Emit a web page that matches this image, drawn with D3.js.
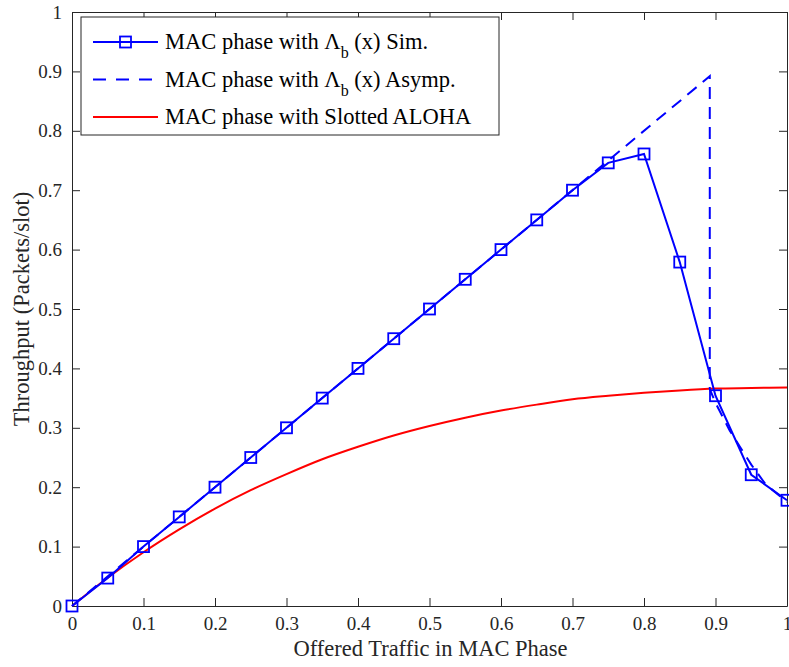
<!DOCTYPE html>
<html>
<head>
<meta charset="utf-8">
<script src="https://cdn.jsdelivr.net/npm/d3@7"></script>
<style>
  body { margin: 0; background: #fff; }
  svg text { font-family: "Liberation Serif", "Times New Roman", serif; }
</style>
</head>
<body>
<div class="chart"></div>
<script>
// data
const simX = [0, 0.05, 0.1, 0.15, 0.2, 0.25, 0.3, 0.35, 0.4, 0.45, 0.5, 0.55, 0.6, 0.65, 0.7, 0.75, 0.8, 0.85, 0.9, 0.95, 1.0];
const simY = [0, 0.047, 0.1, 0.15, 0.2, 0.25, 0.3, 0.35, 0.4, 0.45, 0.5, 0.55, 0.6, 0.65, 0.7, 0.746, 0.761, 0.579, 0.354, 0.221, 0.178];

const asymX = [0, 0.892, 0.892, 0.9, 0.92, 0.95, 0.97, 1.0];
const asymY = [0, 0.892, 0.365, 0.342, 0.295, 0.238, 0.205, 0.175];

const alohaX = [0, 0.05, 0.1, 0.15, 0.2, 0.25, 0.3, 0.35, 0.4, 0.45, 0.5, 0.55, 0.6, 0.65, 0.7, 0.75, 0.8, 0.85, 0.9, 0.95, 1.0];
const alohaY = [0, 0.0476, 0.0905, 0.129, 0.164, 0.195, 0.222, 0.247, 0.268, 0.287, 0.303, 0.317, 0.329, 0.339, 0.348, 0.354, 0.359, 0.363, 0.366, 0.367, 0.368];

const xTicks = [0, 0.1, 0.2, 0.3, 0.4, 0.5, 0.6, 0.7, 0.8, 0.9, 1];
const yTicks = [0, 0.1, 0.2, 0.3, 0.4, 0.5, 0.6, 0.7, 0.8, 0.9, 1];

const margin = ({top: 12, right: 2, bottom: 61, left: 72});
const width = 789 - margin.left - margin.right;
const height = 667 - margin.top - margin.bottom;

var svg = d3.select(".chart")
    .append("svg")
    .attr("width", 789)
    .attr("height", 667)
    .append("g")
    .attr("transform", "translate(" + margin.left + "," + margin.top + ")");

var xScale = d3.scaleLinear().domain([0, 1]).range([0, width]);
var yScale = d3.scaleLinear().domain([0, 1]).range([height, 0]);

const axisColor = "#262626";
const fmt = d => d === 0 ? "0" : d === 1 ? "1" : d3.format(".1f")(d);

// axes (ticks inward)
const xAxis = d3.axisBottom(xScale).tickValues(xTicks).tickFormat(fmt).tickSizeInner(-8).tickSizeOuter(0).tickPadding(11);
const yAxis = d3.axisLeft(yScale).tickValues(yTicks).tickFormat(fmt).tickSizeInner(-8).tickSizeOuter(0).tickPadding(10);
const xTop = d3.axisTop(xScale).tickValues(xTicks).tickFormat("").tickSizeInner(-8).tickSizeOuter(0);
const yRight = d3.axisRight(yScale).tickValues(yTicks).tickFormat("").tickSizeInner(-8).tickSizeOuter(0);

function styleAxis(g) {
  g.selectAll("path").attr("stroke", axisColor).attr("stroke-width", 1);
  g.selectAll("line").attr("stroke", axisColor).attr("stroke-width", 1);
  g.selectAll("text").attr("fill", axisColor).attr("font-size", 19)
    .attr("font-family", "Liberation Serif, serif");
}

svg.append("g").attr("transform", `translate(0,${height})`).call(xAxis).call(styleAxis);
svg.append("g").call(yAxis).call(styleAxis);
svg.append("g").call(xTop).call(styleAxis);
svg.append("g").attr("transform", `translate(${width},0)`).call(yRight).call(styleAxis);

// axis titles
svg.append("text")
    .attr("x", width / 2 + 1)
    .attr("y", height + 50)
    .attr("text-anchor", "middle")
    .attr("font-size", 22.5)
    .attr("fill", axisColor)
    .text("Offered Traffic in MAC Phase");

svg.append("text")
    .attr("transform", `translate(-43,${height / 2}) rotate(-90)`)
    .attr("text-anchor", "middle")
    .attr("font-size", 22.5)
    .attr("fill", axisColor)
    .text("Throughput (Packets/slot)");

const line = d3.line().x(d => xScale(d[0])).y(d => yScale(d[1]));
const smooth = d3.line().x(d => xScale(d[0])).y(d => yScale(d[1])).curve(d3.curveMonotoneX);

// red slotted ALOHA
svg.append("path")
    .datum(d3.zip(alohaX, alohaY))
    .attr("d", smooth)
    .attr("fill", "none")
    .attr("stroke", "#ff0000")
    .attr("stroke-width", 2);

// dashed asymptotic
svg.append("path")
    .datum(d3.zip(asymX, asymY))
    .attr("d", line)
    .attr("fill", "none")
    .attr("stroke", "#0000ff")
    .attr("stroke-width", 2)
    .attr("stroke-dasharray", "12,8");

// simulation with squares
const simData = d3.zip(simX, simY);
svg.append("path")
    .datum(simData)
    .attr("d", line)
    .attr("fill", "none")
    .attr("stroke", "#0000ff")
    .attr("stroke-width", 2);

svg.selectAll(".marker")
    .data(simData)
    .enter()
    .append("rect")
    .attr("class", "marker")
    .attr("x", d => xScale(d[0]) - 5.5)
    .attr("y", d => yScale(d[1]) - 5.5)
    .attr("width", 11)
    .attr("height", 11)
    .attr("fill", "none")
    .attr("stroke", "#0000ff")
    .attr("stroke-width", 1.8);

// legend
const legend = svg.append("g").attr("transform", "translate(9,5)");
legend.append("rect")
    .attr("width", 418)
    .attr("height", 118)
    .attr("fill", "#fff")
    .attr("stroke", axisColor)
    .attr("stroke-width", 1);

const legendItems = [
  {pre: "MAC phase with \u039B", sub: "b", post: " (x) Sim.", dash: null, marker: true, color: "#0000ff"},
  {pre: "MAC phase with \u039B", sub: "b", post: " (x) Asymp.", dash: "13,10", marker: false, color: "#0000ff"},
  {pre: "MAC phase with Slotted ALOHA", sub: null, post: null, dash: null, marker: false, color: "#ff0000"}
];

legendItems.forEach((it, i) => {
  const cy = 25 + i * 37.5;
  legend.append("line")
      .attr("x1", 12).attr("x2", 77)
      .attr("y1", cy).attr("y2", cy)
      .attr("stroke", it.color)
      .attr("stroke-width", 2)
      .attr("stroke-dasharray", it.dash);
  if (it.marker) {
    legend.append("rect")
        .attr("x", 44.5 - 5.5).attr("y", cy - 5.5)
        .attr("width", 11).attr("height", 11)
        .attr("fill", "none").attr("stroke", it.color).attr("stroke-width", 1.8);
  }
  const t = legend.append("text")
      .attr("x", 84)
      .attr("y", cy + 7)
      .attr("font-size", 22.5)
      .attr("fill", "#000");
  t.append("tspan").text(it.pre);
  if (it.sub) {
    t.append("tspan").attr("dy", 9).attr("font-size", 16).text(it.sub);
    t.append("tspan").attr("dy", -9).text(it.post);
  }
});
</script>
</body>
</html>
